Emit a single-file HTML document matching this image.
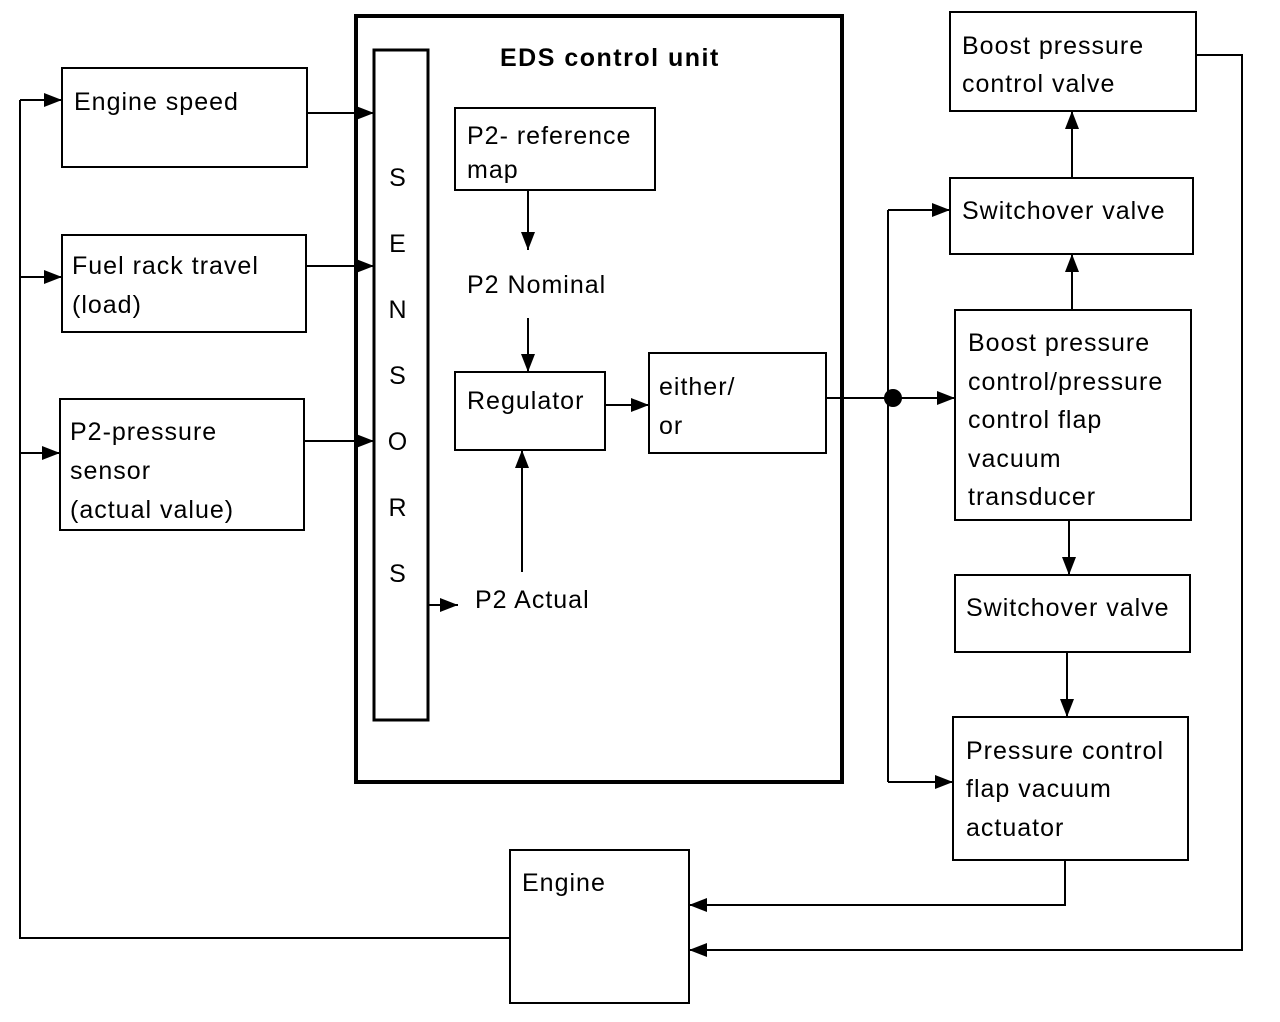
<!DOCTYPE html>
<html><head><style>body{margin:0;background:#fff}svg{display:block}text{font-family:"Liberation Sans",sans-serif;font-size:25px;letter-spacing:1px;fill:#000}</style></head><body>
<svg width="1280" height="1022" viewBox="0 0 1280 1022" xmlns="http://www.w3.org/2000/svg">
<defs><marker id="a" markerWidth="18" markerHeight="14" refX="18" refY="7" orient="auto" markerUnits="userSpaceOnUse"><path d="M0,0 L18,7 L0,14 z" fill="#000"/></marker></defs>
<g fill="none" stroke="#000" stroke-width="2">
<rect x="62" y="68" width="245" height="99"/>
<rect x="62" y="235" width="244" height="97"/>
<rect x="60" y="399" width="244" height="131"/>
<rect x="356" y="16" width="486" height="766" stroke-width="4"/>
<rect x="374" y="50" width="54" height="670" stroke-width="3"/>
<rect x="455" y="108" width="200" height="82"/>
<rect x="455" y="372" width="150" height="78"/>
<rect x="649" y="353" width="177" height="100"/>
<rect x="950" y="12" width="246" height="99"/>
<rect x="950" y="178" width="243" height="76"/>
<rect x="955" y="310" width="236" height="210"/>
<rect x="955" y="575" width="235" height="77"/>
<rect x="953" y="717" width="235" height="143"/>
<rect x="510" y="850" width="179" height="153"/>
</g>
<g fill="none" stroke="#000" stroke-width="2">
<path d="M510,938 H20 V100"/>
<path d="M20,100 H62" marker-end="url(#a)"/>
<path d="M20,277 H62" marker-end="url(#a)"/>
<path d="M20,453 H60" marker-end="url(#a)"/>
<path d="M307,113 H374" marker-end="url(#a)"/>
<path d="M306,266 H374" marker-end="url(#a)"/>
<path d="M304,441 H374" marker-end="url(#a)"/>
<path d="M528,190 V250" marker-end="url(#a)"/>
<path d="M528,318 V372" marker-end="url(#a)"/>
<path d="M605,405 H649" marker-end="url(#a)"/>
<path d="M522,572 V450" marker-end="url(#a)"/>
<path d="M428,605 H458" marker-end="url(#a)"/>
<path d="M826,398 H955" marker-end="url(#a)"/>
<path d="M888,210 V782"/>
<path d="M888,210 H950" marker-end="url(#a)"/>
<path d="M888,782 H953" marker-end="url(#a)"/>
<path d="M1072,178 V111" marker-end="url(#a)"/>
<path d="M1072,310 V254" marker-end="url(#a)"/>
<path d="M1069,520 V575" marker-end="url(#a)"/>
<path d="M1067,652 V717" marker-end="url(#a)"/>
<path d="M1065,860 V905 H689" marker-end="url(#a)"/>
<path d="M1196,55 H1242 V950 H689" marker-end="url(#a)"/>
</g>
<circle cx="893" cy="398" r="9" fill="#000"/>
<text x="500" y="66" style="font-weight:bold;letter-spacing:1.5px">EDS control unit</text>
<text x="74" y="110">Engine speed</text>
<text x="72" y="274">Fuel rack travel</text>
<text x="72" y="313">(load)</text>
<text x="70" y="440">P2-pressure</text>
<text x="70" y="479">sensor</text>
<text x="70" y="518">(actual value)</text>
<g text-anchor="middle"><text x="398" y="186">S</text><text x="398" y="252">E</text><text x="398" y="318">N</text><text x="398" y="384">S</text><text x="398" y="450">O</text><text x="398" y="516">R</text><text x="398" y="582">S</text></g>
<text x="467" y="144">P2- reference</text>
<text x="467" y="178">map</text>
<text x="467" y="293">P2 Nominal</text>
<text x="467" y="409">Regulator</text>
<text x="659" y="395">either/</text>
<text x="659" y="434">or</text>
<text x="475" y="608">P2 Actual</text>
<text x="962" y="54">Boost pressure</text>
<text x="962" y="92">control valve</text>
<text x="962" y="219">Switchover valve</text>
<text x="968" y="351">Boost pressure</text>
<text x="968" y="390">control/pressure</text>
<text x="968" y="428">control flap</text>
<text x="968" y="467">vacuum</text>
<text x="968" y="505">transducer</text>
<text x="966" y="616">Switchover valve</text>
<text x="966" y="759">Pressure control</text>
<text x="966" y="797">flap vacuum</text>
<text x="966" y="836">actuator</text>
<text x="522" y="891">Engine</text>
</svg>
</body></html>
